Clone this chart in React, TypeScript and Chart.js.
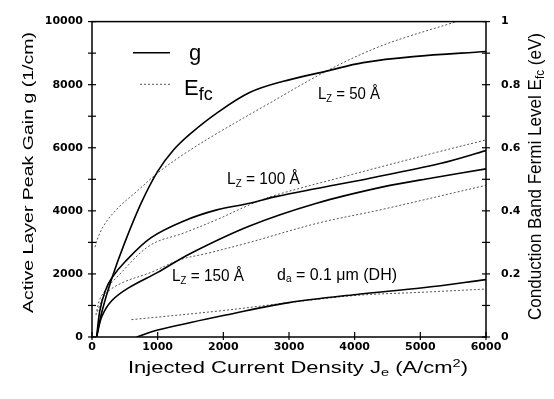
import React, { useEffect, useRef } from 'react';
import { Chart, registerables } from 'chart.js';

Chart.register(...registerables);

// ---- axis tick labels ----
const gTickLabels = ['0', '2000', '4000', '6000', '8000', '10000'];
const eTickLabels = ['0', '0.2', '0.4', '0.6', '0.8', '1'];

// ---- Lz = 50 Å ----
const lz50J = [70, 150, 300, 500, 750, 1000, 1250, 1500, 1900, 2400, 2900, 3570, 4130, 4890, 6000];
const lz50G = [0, 800, 1850, 3000, 4250, 5250, 5950, 6450, 7100, 7750, 8100, 8430, 8700, 8890, 9050];
const lz50EJ = [45, 100, 200, 400, 700, 1000, 1400, 1900, 2650, 3570, 4430, 5550];
const lz50E = [0.285, 0.32, 0.36, 0.41, 0.465, 0.52, 0.58, 0.645, 0.735, 0.843, 0.925, 1.0];

// ---- Lz = 100 Å ----
const lz100J = [70, 120, 200, 300, 500, 900, 1400, 1900, 2400, 2800, 3400, 4200, 5300, 6000];
const lz100G = [0, 840, 1450, 1870, 2380, 3150, 3680, 4030, 4240, 4450, 4700, 5020, 5500, 5910];
const lz100EJ = [60, 120, 230, 380, 880, 1400, 1900, 2400, 2800, 3900, 5200, 6000];
const lz100E = [0.07, 0.12, 0.155, 0.19, 0.29, 0.33, 0.372, 0.419, 0.45, 0.512, 0.583, 0.625];

// ---- Lz = 150 Å ----
const lz150J = [70, 150, 300, 550, 1000, 1500, 2400, 3420, 4430, 5200, 6000];
const lz150G = [0, 650, 1150, 1550, 2050, 2650, 3520, 4240, 4760, 5050, 5330];
const lz150EJ = [80, 200, 450, 900, 1340, 1750, 2400, 3420, 4430, 6000];
const lz150E = [0.08, 0.135, 0.171, 0.205, 0.245, 0.265, 0.3, 0.36, 0.405, 0.481];

// ---- DH, da = 0.1 µm ----
const dhJ = [680, 1000, 2000, 3000, 4030, 5040, 6000];
const dhG = [0, 220, 680, 1090, 1350, 1560, 1820];
const dhEJ = [600, 2000, 3000, 4030, 5040, 6000];
const dhE = [0.055, 0.084, 0.109, 0.132, 0.142, 0.152];

const pts = (xs: number[], ys: number[]) => xs.map((x, i) => ({ x, y: ys[i] }));

type Seg = { t: string; s: number; dy?: number };
const FAM = '"Liberation Sans", Arial, sans-serif';

function rich(
  ctx: CanvasRenderingContext2D,
  segs: Seg[],
  x: number,
  y: number,
  o: { width?: number; rot?: number; center?: boolean }
) {
  ctx.save();
  let total = 0;
  const ws = segs.map((sg) => {
    ctx.font = `${sg.s}px ${FAM}`;
    const w = ctx.measureText(sg.t).width;
    total += w;
    return w;
  });
  ctx.translate(x, y);
  if (o.rot) ctx.rotate(o.rot);
  const sx = o.width ? o.width / total : 1;
  ctx.scale(sx, 1);
  let cx = o.center ? -total / 2 : 0;
  ctx.textBaseline = 'alphabetic';
  ctx.textAlign = 'left';
  ctx.fillStyle = '#000';
  segs.forEach((sg, i) => {
    ctx.font = `${sg.s}px ${FAM}`;
    ctx.fillText(sg.t, cx, sg.dy || 0);
    cx += ws[i];
  });
  ctx.restore();
}

const decor = {
  id: 'decor',
  afterDraw(chart: any) {
    const { ctx, chartArea: a, scales } = chart;
    ctx.save();
    ctx.strokeStyle = '#000';
    ctx.lineWidth = 1.5;
    ctx.strokeRect(a.left, a.top, a.right - a.left, a.bottom - a.top);
    ctx.lineWidth = 1.2;
    const seg = (x1: number, y1: number, x2: number, y2: number) => {
      ctx.beginPath();
      ctx.moveTo(x1, y1);
      ctx.lineTo(x2, y2);
      ctx.stroke();
    };
    scales.x.ticks.forEach((t: any) => {
      const p = scales.x.getPixelForValue(t.value);
      seg(p, a.bottom - 5, p, a.bottom + 3);
    });
    scales.y.ticks.forEach((t: any) => {
      const p = scales.y.getPixelForValue(t.value);
      seg(a.left - 4, p, a.left + 4, p);
    });
    scales.y2.ticks.forEach((t: any) => {
      const p = scales.y2.getPixelForValue(t.value);
      seg(a.right - 4, p, a.right + 4, p);
    });

    // legend
    ctx.lineWidth = 1.6;
    seg(133, 52.7, 170, 52.7);
    ctx.save();
    ctx.strokeStyle = '#555';
    ctx.lineWidth = 1;
    ctx.setLineDash([2, 2]);
    seg(140, 84.3, 170, 84.3);
    ctx.restore();
    rich(ctx, [{ t: 'g', s: 22 }], 189, 60, {});
    rich(ctx, [{ t: 'E', s: 22 }, { t: 'fc', s: 18, dy: 5 }], 184, 95, {});

    // annotations
    rich(ctx, [{ t: 'L', s: 16 }, { t: 'Z', s: 10, dy: 3 }, { t: ' = 50 Å', s: 16 }], 318, 99, { width: 62 });
    rich(ctx, [{ t: 'L', s: 16 }, { t: 'Z', s: 10, dy: 3 }, { t: ' = 100 Å', s: 16 }], 227, 183.5, { width: 73 });
    rich(ctx, [{ t: 'L', s: 16 }, { t: 'Z', s: 10, dy: 3 }, { t: ' = 150 Å', s: 16 }], 172, 280.5, { width: 72 });
    rich(ctx, [{ t: 'd', s: 16 }, { t: 'a', s: 10, dy: 2 }, { t: ' = 0.1 μm (DH)', s: 16 }], 277, 279.5, { width: 120 });

    // axis titles
    rich(
      ctx,
      [
        { t: 'Injected Current Density J', s: 16.5 },
        { t: 'e', s: 11, dy: 3 },
        { t: ' (A/cm', s: 16.5 },
        { t: '2', s: 11, dy: -6 },
        { t: ')', s: 16.5 },
      ],
      298, 373, { width: 340, center: true }
    );
    rich(ctx, [{ t: 'Active Layer Peak Gain g (1/cm)', s: 15 }], 33, 172.5, {
      width: 281, rot: -Math.PI / 2, center: true,
    });
    rich(
      ctx,
      [
        { t: 'Conduction Band Fermi Level E', s: 19 },
        { t: 'fc', s: 13, dy: 3 },
        { t: ' (eV)', s: 19 },
      ],
      541, 176.5, { width: 287, rot: -Math.PI / 2, center: true }
    );
    ctx.restore();
  },
};

const gStyle = { borderColor: '#000', borderWidth: 1.6, pointRadius: 0, tension: 0.35, yAxisID: 'y', fill: false };
const eStyle = { borderColor: '#555', borderWidth: 1, borderDash: [2, 2], pointRadius: 0, tension: 0.35, yAxisID: 'y2', fill: false };

export default function App() {
  const ref = useRef<HTMLCanvasElement>(null);
  useEffect(() => {
    const tickFont = { family: '"DejaVu Sans", sans-serif', size: 11, weight: 'bold' as const };
    const chart = new Chart(ref.current!, {
      type: 'line',
      data: {
        datasets: [
          { ...gStyle, data: pts(lz50J, lz50G) },
          { ...eStyle, data: pts(lz50EJ, lz50E) },
          { ...gStyle, data: pts(lz100J, lz100G) },
          { ...eStyle, data: pts(lz100EJ, lz100E) },
          { ...gStyle, data: pts(lz150J, lz150G) },
          { ...eStyle, data: pts(lz150EJ, lz150E) },
          { ...gStyle, data: pts(dhJ, dhG) },
          { ...eStyle, data: pts(dhEJ, dhE) },
        ] as any,
      },
      options: {
        animation: false,
        responsive: false,
        events: [],
        layout: { padding: { top: 14, left: 0, right: 0, bottom: 0 } },
        plugins: { legend: { display: false }, tooltip: { enabled: false } },
        scales: {
          x: {
            type: 'linear',
            min: 0,
            max: 6000,
            border: { display: false },
            grid: { display: false, drawTicks: false },
            ticks: { stepSize: 1000, autoSkip: false, maxRotation: 0, padding: 4, color: '#000', font: tickFont, callback: (v: any) => String(v) },
            afterFit: (s: any) => { s.height = 62; },
          },
          y: {
            type: 'linear',
            position: 'left',
            min: 0,
            max: 10000,
            border: { display: false },
            grid: { display: false, drawTicks: false },
            ticks: {
              stepSize: 1000, autoSkip: false, padding: 9, color: '#000', font: tickFont,
              callback: (v: any) => (gTickLabels.includes(String(v)) ? String(v) : ''),
            },
            afterFit: (s: any) => { s.width = 92; },
          },
          y2: {
            type: 'linear',
            position: 'right',
            min: 0,
            max: 1,
            border: { display: false },
            grid: { display: false, drawTicks: false },
            ticks: {
              stepSize: 0.1, autoSkip: false, padding: 15, color: '#000', font: tickFont,
              callback: (v: any) => {
                const s = String(Math.round(v * 10) / 10);
                return eTickLabels.includes(s) ? s : '';
              },
            },
            afterFit: (s: any) => { s.width = 68; },
          },
        },
      } as any,
      plugins: [decor],
    });
    return () => chart.destroy();
  }, []);
  return (
    <div style={{ position: 'fixed', left: 0, top: 0, width: 554, height: 399, background: '#fff' }}>
      <canvas ref={ref} width={554} height={399} style={{ width: 554, height: 399, display: 'block' }} />
    </div>
  );
}
